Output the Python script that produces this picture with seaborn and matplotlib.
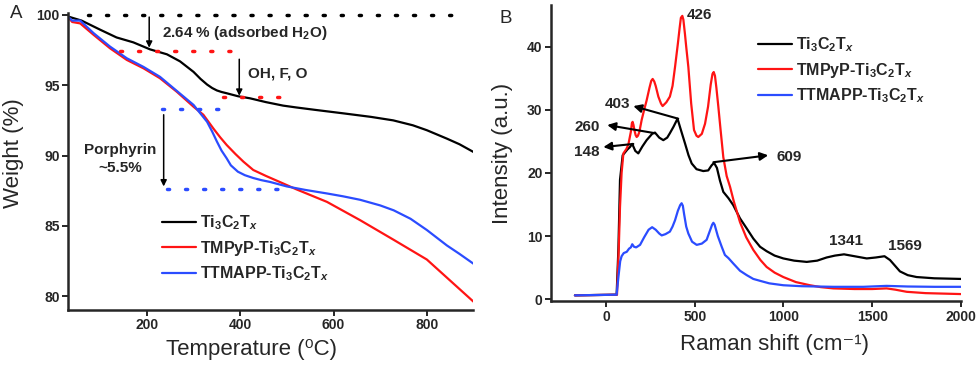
import numpy as np
import pandas as pd
import matplotlib
matplotlib.use("Agg")
import matplotlib.pyplot as plt
import seaborn as sns

# ---- TGA data (panel A) ----
tga_t_black = [30, 45, 60, 100, 135, 171, 207, 243, 271, 300, 315, 329, 340, 350, 360, 371, 395, 421, 455, 492,
               520, 560, 621, 680, 728, 770, 800, 843, 870, 900]
tga_w_black = [99.9, 99.75, 99.6, 98.95, 98.4, 98.05, 97.55, 97.2, 96.7, 95.95, 95.45, 95.05, 94.8, 94.63, 94.52, 94.43, 94.22, 94.07, 93.8, 93.55,
               93.42, 93.25, 93.0, 92.75, 92.5, 92.15, 91.8, 91.2, 90.8, 90.25]

tga_t_red = [30, 40, 57, 86, 121, 157, 193, 228, 264, 300, 321, 343, 357, 371, 390, 407, 428, 455, 486, 520,
             586, 657, 729, 800, 850, 900]
tga_w_red = [99.9, 99.5, 99.4, 98.58, 97.63, 96.8, 96.2, 95.5, 94.54, 93.47, 92.9, 91.9, 91.3, 90.75, 90.1, 89.56, 88.97, 88.55, 88.1, 87.6,
             86.7, 85.4, 84.0, 82.6, 81.1, 79.6]

tga_t_blue = [30, 40, 57, 86, 121, 157, 193, 228, 264, 300, 329, 340, 350, 360, 371, 380, 395, 410, 428, 445,
              464, 500, 540, 586, 620, 657, 700, 729, 765, 800, 843, 870, 900]
tga_w_blue = [99.9, 99.6, 99.6, 98.7, 97.75, 96.92, 96.3, 95.6, 94.6, 93.6, 92.4, 91.7, 91.0, 90.35, 89.8, 89.3, 88.85, 88.6, 88.4, 88.25,
              88.12, 87.8, 87.55, 87.3, 87.1, 86.85, 86.45, 86.1, 85.5, 84.7, 83.6, 83.0, 82.3]

# ---- Raman data (panel B) ----
ram_x_black = [-175, 60, 70, 79, 94, 120, 135, 148, 165, 182, 205, 229, 260, 276, 300, 323, 345, 360, 380, 403,
               420, 445, 465, 483, 510, 548, 576, 595, 609, 625, 642, 661, 690, 717, 755, 793, 830, 868, 905, 950,
               999, 1060, 1131, 1190, 1243, 1290, 1341, 1400, 1469, 1520, 1569, 1600, 1656, 1700, 1750, 1850, 2000]
ram_y_black = [0.6, 0.7, 8.0, 18.9, 22.8, 23.7, 24.1, 24.6, 23.5, 23.1, 24.2, 25.2, 26.2, 26.4, 25.6, 25.2, 25.6, 26.3, 27.3, 28.6,
               27.0, 24.7, 22.8, 21.5, 20.6, 20.3, 20.4, 21.2, 21.6, 20.8, 18.8, 17.0, 16.0, 14.9, 12.8, 11.2, 9.6, 8.3, 7.6, 6.9,
               6.45, 6.1, 5.9, 6.1, 6.6, 6.9, 7.1, 6.8, 6.45, 6.6, 6.8, 6.2, 4.4, 3.8, 3.5, 3.3, 3.2]

ram_x_red = [-175, 62, 72, 79, 88, 98, 115, 126, 140, 146, 150, 155, 160, 167, 173, 180, 188, 201, 215, 229,
             245, 255, 263, 272, 280, 288, 295, 310, 319, 340, 360, 375, 389, 405, 415, 422, 430, 436, 445, 452,
             464, 480, 496, 510, 520, 540, 558, 575, 590, 600, 607, 614, 622, 633, 645, 661, 680, 699, 720, 755,
             790, 830, 870, 905, 950, 999, 1070, 1149, 1210, 1281, 1400, 1500, 1581, 1630, 1694, 1800, 2000]
ram_y_red = [0.6, 0.7, 8.0, 14.6, 20.0, 23.1, 23.8, 24.5, 26.5, 27.9, 28.1, 27.6, 26.8, 26.0, 25.7, 25.9, 26.5, 28.4, 30.0, 31.5,
             33.5, 34.6, 34.9, 34.5, 33.8, 32.9, 32.1, 31.0, 30.6, 31.2, 32.1, 33.8, 36.8, 40.5, 43.0, 44.6, 44.9, 44.3, 42.0, 40.0,
             36.8, 31.0, 26.8, 25.9, 25.7, 26.2, 27.8, 30.5, 34.0, 35.7, 36.0, 35.4, 33.5, 30.5, 27.0, 22.5, 19.5, 17.8, 15.5, 12.2,
             9.8, 7.8, 6.2, 5.1, 4.2, 3.5, 2.7, 2.2, 1.9, 1.7, 1.6, 1.6, 1.7, 1.5, 1.16, 0.95, 0.8]

ram_x_blue = [-175, 60, 70, 80, 88, 100, 117, 130, 140, 148, 158, 170, 192, 215, 240, 260, 280, 300, 314, 335,
              360, 375, 389, 405, 418, 426, 433, 440, 452, 464, 485, 511, 540, 567, 585, 598, 605, 612, 630, 652,
              670, 690, 717, 755, 793, 830, 868, 920, 999, 1100, 1281, 1450, 1581, 1700, 1850, 2000]
ram_y_blue = [0.6, 0.7, 3.5, 6.0, 6.8, 7.3, 7.5, 8.0, 8.2, 8.7, 8.3, 8.2, 8.6, 9.8, 11.0, 11.4, 11.0, 10.4, 10.1, 10.3,
              10.7, 11.5, 12.5, 14.0, 14.9, 15.2, 14.8, 13.5, 11.5, 10.4, 9.1, 8.6, 8.8, 9.4, 10.8, 11.8, 12.1, 11.8, 10.0, 8.3,
              7.0, 6.5, 5.65, 4.5, 3.8, 3.2, 2.9, 2.5, 2.2, 2.05, 1.95, 1.95, 2.1, 2.0, 1.95, 1.95]

labels = ['Ti$_3$C$_2$T$_x$', 'TMPyP-Ti$_3$C$_2$T$_x$', 'TTMAPP-Ti$_3$C$_2$T$_x$']
colors = ['#000000', '#ff1414', '#2b4cff']

raman_peaks = ['148', '260', '403', '426', '609', '1341', '1569']

sns.set_style('ticks')
plt.rcParams['font.family'] = ['Liberation Sans', 'DejaVu Sans']
plt.rcParams['mathtext.fontset'] = 'custom'
plt.rcParams['mathtext.rm'] = 'Liberation Sans:bold'
plt.rcParams['mathtext.it'] = 'Liberation Sans:bold:italic'
plt.rcParams['mathtext.bf'] = 'Liberation Sans:bold'

fig = plt.figure(figsize=(9.8, 3.68), dpi=100)
axA = fig.add_axes([0.0694, 0.1584, 0.4133, 0.8063])
axB = fig.add_axes([0.5622, 0.181, 0.4184, 0.805])

tga = [(tga_t_black, tga_w_black), (tga_t_red, tga_w_red), (tga_t_blue, tga_w_blue)]
ram = [(ram_x_black, ram_y_black), (ram_x_red, ram_y_red), (ram_x_blue, ram_y_blue)]

for (t, w), lab, c in zip(tga, labels, colors):
    df = pd.DataFrame({'T': t, 'W': w})
    sns.lineplot(data=df, x='T', y='W', color=c, lw=1.6, label=lab, ax=axA)
for (x, y), lab, c in zip(ram, labels, colors):
    df = pd.DataFrame({'x': x, 'y': y})
    sns.lineplot(data=df, x='x', y='y', color=c, lw=1.6, label=lab, ax=axB)

# style axes
for ax in (axA, axB):
    sns.despine(ax=ax)
    for s in ('left', 'bottom'):
        ax.spines[s].set_linewidth(1.8)
    ax.tick_params(direction='out', length=4, width=1.4, labelsize=10, pad=2)

axA.set_xlim(31, 899)
axA.set_ylim(79.03, 100.14)
axA.set_xticks([200, 400, 600, 800])
axA.set_yticks([80, 85, 90, 95, 100])
axB.set_xlim(-310, 2000)
axB.set_ylim(-0.36, 46.6)
axB.set_xticks([0, 500, 1000, 1500, 2000])
axB.set_yticks([0, 10, 20, 30, 40])
for ax in (axA, axB):
    plt.setp(ax.get_xticklabels(), fontweight='bold')
    plt.setp(ax.get_yticklabels(), fontweight='bold')

axA.set_xlabel('Temperature (\u2070C)', fontsize=16)
axA.set_ylabel('Weight (%)', fontsize=16)
axB.set_xlabel('Raman shift (cm\u207b\u00b9)', fontsize=16)
axB.set_ylabel('Intensity (a.u.)', fontsize=16)
for ax in (axA, axB):
    ax.xaxis.label.set_va('center')
    ax.yaxis.label.set_va('center')
axA.xaxis.set_label_coords(0.454, -0.135)
axA.yaxis.set_label_coords(-0.134, 0.527)
axB.xaxis.set_label_coords(0.546, -0.147)
axB.yaxis.set_label_coords(-0.117, 0.50)

leg_kw = dict(frameon=False, fontsize=11.5, handlelength=2.1, handletextpad=0.25,
              labelspacing=0.42, borderpad=0, borderaxespad=0, loc='center left')
leg = axA.legend(bbox_to_anchor=(0.232, 0.207), **leg_kw)
for t in leg.get_texts():
    t.set_fontweight('bold')
leg = axB.legend(bbox_to_anchor=(0.505, 0.78), **leg_kw)
for t in leg.get_texts():
    t.set_fontweight('bold')

# ---- panel A annotations ----
dot_kw = dict(lw=2.5, linestyle=(0, (0.6, 4.6)), dash_capstyle='round', clip_on=False)
axA.plot([73, 866], [100, 100], color='k', **dot_kw)
axA.plot([143, 396], [97.44, 97.44], color=colors[1], **dot_kw)
axA.plot([364, 493], [94.19, 94.19], color=colors[1], **dot_kw)
axA.plot([232, 360], [93.29, 93.29], color=colors[2], **dot_kw)
axA.plot([243, 496], [87.6, 87.6], color=colors[2], **dot_kw)

arr_a = dict(arrowstyle='-|>', lw=1.1, color='k', mutation_scale=9, shrinkA=0, shrinkB=0)
axA.annotate('', xy=(205, 97.67), xytext=(205, 99.85), arrowprops=arr_a)
axA.annotate('', xy=(398, 94.25), xytext=(398, 96.85), arrowprops=arr_a)
axA.annotate('', xy=(236, 87.8), xytext=(236, 92.9), arrowprops=arr_a)

axA.text(233, 98.72, '2.64 % (adsorbed H$_2$O)', fontsize=11, fontweight='bold', ha='left', va='center')
axA.text(417, 95.87, 'OH, F, O', fontsize=11, fontweight='bold', ha='left', va='center')
axA.text(143, 89.75, 'Porphyrin\n~5.5%', fontsize=11, fontweight='bold', ha='center', va='center',
         multialignment='center', linespacing=1.35)

# ---- panel B annotations ----
arr_b = dict(arrowstyle='-|>', lw=1.5, color='k', mutation_scale=12, shrinkA=0, shrinkB=0)
axB.annotate('', xy=(-15, 24.1), xytext=(154, 24.6), arrowprops=arr_b)
axB.annotate('', xy=(7, 27.6), xytext=(276, 26.3), arrowprops=arr_b)
axB.annotate('', xy=(154, 30.6), xytext=(407, 28.6), arrowprops=arr_b)
axB.annotate('', xy=(914, 22.8), xytext=(605, 21.7), arrowprops=arr_b)

pk = dict(fontsize=11, fontweight='bold', va='center')
axB.text(-34, 23.3, raman_peaks[0], ha='right', **pk)
axB.text(-34, 27.3, raman_peaks[1], ha='right', **pk)
axB.text(135, 30.9, raman_peaks[2], ha='right', **pk)
axB.text(455, 45.0, raman_peaks[3], ha='left', **pk)
axB.text(958, 22.55, raman_peaks[4], ha='left', **pk)
axB.text(1351, 9.24, raman_peaks[5], ha='center', **pk)
axB.text(1686, 8.45, raman_peaks[6], ha='center', **pk)

fig.text(16.5 / 980, 1 - 13.5 / 368, 'A', fontsize=13.5, ha='center', va='center')
fig.text(506 / 980, 1 - 18.5 / 368, 'B', fontsize=13.5, ha='center', va='center')

fig.savefig('out.png', dpi=100)
